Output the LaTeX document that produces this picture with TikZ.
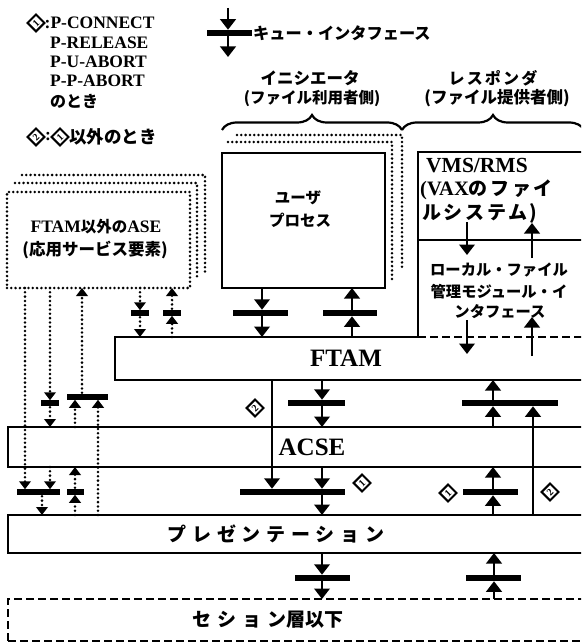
\documentclass[tikz,border=0pt]{standalone}
\usepackage{fontspec}
\setmainfont{Liberation Serif}
\newfontfamily\jp{Noto Sans CJK JP}
\newfontfamily\jpw{Noto Sans CJK JP}[LetterSpace=30]
\newfontfamily\jpm{Noto Sans CJK JP}[LetterSpace=14]
\usetikzlibrary{arrows.meta,decorations.pathreplacing}
\tikzset{
  ln/.style={line width=2.2pt},
  dl/.style={line width=2.8pt, dash pattern=on 0pt off 4.3pt, line cap=round},
  dsh/.style={line width=2.2pt, dash pattern=on 8pt off 4pt},
  tb/.style={-{Triangle[width=15.5pt,length=10.5pt]}},
  ts/.style={-{Triangle[width=11.5pt,length=8pt]}},
  bb/.style={line width=6.5pt},
  bs/.style={line width=5.5pt},
  area/.style={inner sep=0pt, outer sep=0pt, anchor=north west},
  lt/.style={inner sep=0pt, font=\fontsize{#1}{#1}\selectfont\bfseries},
  jt/.style={inner sep=0pt, font=\jp\fontsize{#1}{#1}\selectfont\bfseries},
  jw/.style={inner sep=0pt, font=\jpw\fontsize{#1}{#1}\selectfont\bfseries},
  jm/.style={inner sep=0pt, font=\jpm\fontsize{#1}{#1}\selectfont\bfseries},
  dia/.style={draw, rotate=45, line width=2.1pt, minimum size=12pt, inner sep=0pt, font=\fontsize{10}{10}\selectfont\bfseries},
}
\begin{document}
\begin{tikzpicture}[x=1pt,y=-1pt]
\useasboundingbox (0,0) rectangle (581,644);
\clip (0,0) rectangle (581,644);

% ---------- legend ----------
\node[dia] (lg1) at (36,23) {1};
\node[lt=17.5, anchor=west] (lgc) at (44.5,23) {:P-CONNECT};
\node[lt=17.5, anchor=west] (lgr) at (50,43) {P-RELEASE};
\node[lt=17.5, anchor=west] (lgu) at (50,62) {P-U-ABORT};
\node[lt=17.5, anchor=west] (lgp) at (50,81) {P-P-ABORT};
\node[jt=16, anchor=west] (lgt) at (50,101) {のとき};
\node[dia] (lg2) at (36,137) {2};
\node[lt=17.5, anchor=west] (lg2c) at (45,137) {:};
\node[dia] (lg2b) at (60,137) {1};
\node[jt=17.5, anchor=west] (lg2t) at (69,137) {以外のとき};

% key symbol
\coordinate (kt) at (228,8);
\coordinate (kb) at (228,33);
\coordinate (ke) at (228,57);
\draw[ln,tb] (kt) -- (228,29.75);
\draw[ln,tb] (kb) -- (ke);
\draw[bb] (207,33) -- (252,33);
\node[jt=16.2, anchor=west] (keyt) at (253,33) {キュー・インタフェース};

% ---------- braces ----------
\node[jt=16.5] (ini1) at (310,78) {イニシエータ};
\node[jt=15.5] (ini2) at (312,98) {(ファイル利用者側)};
\node[jm=16] (res1) at (493,78) {レスポンダ};
\node[jt=16.5] (res2) at (497,98) {(ファイル提供者側)};
\coordinate (brl) at (222,130);
\coordinate (brm) at (402,130);
\coordinate (brr) at (584,130);
\draw[ln, decorate, decoration={brace, amplitude=15pt}] (brl) -- (brm);
\draw[ln, decorate, decoration={brace, amplitude=15pt}] (brm) -- (brr);

% ---------- ASE boxes ----------
\draw[dl] (22,175) -- (205,175) -- (205,272);
\draw[dl] (15,183) -- (197,183) -- (197,280);
\node[area, dl, draw, minimum width=183pt, minimum height=96pt] (ase) at (7,192) {};
\node[lt=17.5] (aset1) at (96,227) {FTAM{\jp\fontsize{15.5}{15.5}\selectfont\bfseries 以外の}ASE};
\node[jt=16.5] (aset2) at (95,250) {(応用サービス要素)};

% ---------- user process ----------
\draw[dl] (237,135) -- (402,135) -- (402,270);
\draw[dl] (228,142) -- (392,142) -- (392,280);
\node[area, ln, draw, minimum width=163pt, minimum height=135pt] (user) at (222,153) {};
\node[jt=15.5] (usr1) at (298,198) {ユーザ};
\node[jt=15.5] (usr2) at (300,220) {プロセス};

% ---------- VMS / RMS ----------
\node[area, minimum width=182pt, minimum height=185pt] (vms) at (418,152) {};
\draw[ln] (vms.south west) -- (vms.north west) -- (vms.north east);
\draw[ln] (vms.west |- 0,240) -- (vms.east |- 0,240);
\draw[dsh] (vms.south west) -- (vms.south east);
\node[lt=21.5, anchor=west] (vms1) at (426,166) {VMS/RMS};
\node[lt=20.5, anchor=west] (vms2) at (420,190) {(VAX{\jpm\fontsize{19}{19}\selectfont\bfseries のファイ}};
\node[jm=19, anchor=west] (vms3) at (422,213) {ルシステム)};
\draw[ln,tb] (467,222) -- (467,255);
\draw[ln,tb] (532,258) -- (532,223);
\node[jt=15.3] (lf1) at (499,270) {ローカル・ファイル};
\node[jt=15.3] (lf2) at (499,292) {管理モジュール・イ};
\node[jt=15.3] (lf3) at (500,312) {ンタフェース};
\draw[ln,tb] (467,320) -- (467,354);
\draw[ln,tb] (532,356) -- (532,317);

% ---------- layer boxes ----------
\node[area, minimum width=485pt, minimum height=43pt] (ftam) at (115,337) {};
\draw[ln] (vms.south west) -- (ftam.north west) -- (ftam.south west) -- (ftam.south east);
\node[lt=25] (ftamt) at (346,358) {FTAM};
\node[area, ln, draw, minimum width=592pt, minimum height=40pt] (acse) at (8,427) {};
\node[lt=25] (acset) at (312,447) {ACSE};
\node[area, ln, draw, minimum width=592pt, minimum height=38pt] (pres) at (8,515) {};
\node[jw=19] (prest) at (276,534) {プレゼンテーション};
\node[area, dsh, draw, minimum width=592pt, minimum height=42pt] (sess) at (8,599) {};
\node[inner sep=0pt] (sesst) at (268,620) {{\jpw\fontsize{19}{19}\selectfont\bfseries セション}{\jp\fontsize{19}{19}\selectfont\bfseries 層以下}};

% ---------- user <-> FTAM ----------
\draw[ln,tb] (user.south -| 262,0) -- (262,309.75);
\draw[ln,tb] (262,313) -- (ftam.north -| 262,0);
\draw[bb] (233,313) -- (288,313);
\draw[ln,tb] (ftam.north -| 352,0) -- (352,316.25);
\draw[ln,tb] (352,313) -- (user.south -| 352,0);
\draw[bb] (323,313) -- (377,313);

% ---------- FTAM <-> ACSE ----------
\draw[ln,tb] (ftam.south -| 322,0) -- (322,399.75);
\draw[ln,tb] (322,403) -- (acse.north -| 322,0);
\draw[bb] (288,403) -- (345,403);
\draw[ln,tb] (acse.north -| 493,0) -- (493,406.25);
\draw[ln,tb] (493,403) -- (ftam.south -| 493,0);
\draw[ln,tb] (pres.north -| 533,0) -- (533,406.25);
\draw[bb] (462,403) -- (558,403);

% ---------- ACSE <-> presentation ----------
\draw[ln,tb] (ftam.south -| 272,0) -- (272,488.75);
\draw[ln,tb] (acse.south -| 322,0) -- (322,488.75);
\draw[ln,tb] (322,492) -- (pres.north -| 322,0);
\draw[bb] (240,492) -- (345,492);
\draw[ln,tb] (pres.north -| 493,0) -- (493,495.25);
\draw[ln,tb] (493,492) -- (acse.south -| 493,0);
\draw[bb] (463,492) -- (518,492);

% ---------- presentation <-> session ----------
\draw[ln,tb] (pres.south -| 322,0) -- (322,574.75);
\draw[ln,tb] (322,578) -- (sess.north -| 322,0);
\draw[bb] (295,578) -- (350,578);
\draw[ln,tb] (sess.north -| 494,0) -- (494,581.25);
\draw[ln,tb] (494,578) -- (pres.south -| 494,0);
\draw[bb] (466,578) -- (521,578);

% diamonds
\node[dia] (m2a) at (255,408) {2};
\node[dia] (m1a) at (362,483) {1};
\node[dia] (m1b) at (448,493) {1};
\node[dia] (m2b) at (550,492) {2};

% ---------- dotted paths of other ASEs ----------
\draw[dl,ts] (ase.south -| 140,0) -- (140,310.25);
\draw[dl,ts] (140,313) -- (ftam.north -| 140,0);
\draw[bs] (131,313) -- (149,313);
\draw[dl,ts] (ftam.north -| 172,0) -- (172,315.75);
\draw[dl,ts] (172,313) -- (ase.south -| 172,0);
\draw[bs] (163,313) -- (181,313);

\draw[dl,ts] (ase.south -| 25,0) -- (25,489.25);
\draw[dl,ts] (ase.south -| 50,0) -- (50,400.25);
\draw[dl,ts] (50,403) -- (acse.north -| 50,0);
\draw[bs] (41,403) -- (59,403);
\draw[dl,ts] (acse.south -| 50,0) -- (50,489.25);
\draw[bs] (17,492) -- (60,492);
\draw[dl,ts] (42,492) -- (pres.north -| 42,0);

\draw[dl,ts] (pres.north -| 75,0) -- (75,494.75);
\draw[dl,ts] (75,492) -- (acse.south -| 75,0);
\draw[bs] (67,492) -- (84,492);
\draw[dl,ts] (acse.north -| 75,0) -- (75,399.75);
\draw[dl,ts] (pres.north -| 98,0) -- (98,399.75);
\draw[bs] (67,397) -- (108,397);
\draw[dl,ts] (82,397) -- (ase.south -| 82,0);
\end{tikzpicture}
\end{document}
